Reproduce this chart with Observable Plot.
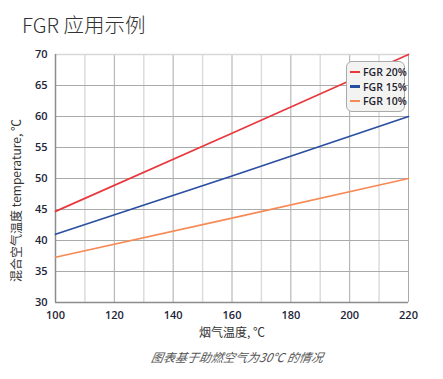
<!DOCTYPE html>
<html><head><meta charset="utf-8">
<script src="https://cdn.jsdelivr.net/npm/d3@7"></script>
<script src="https://cdn.jsdelivr.net/npm/@observablehq/plot@0.6"></script>
<style>
body{margin:0;background:#fff;font-family:"Open Sans","Noto Sans CJK SC",sans-serif;}
#wrap{position:relative;width:443px;height:379px;overflow:hidden;}
#title{position:absolute;left:22px;top:9px;font-family:"Noto Sans CJK SC","Noto Sans",sans-serif;font-size:20.5px;font-weight:300;color:#333;white-space:nowrap;}
#caption{position:absolute;left:0;width:475px;top:348px;text-align:center;font-family:"Noto Sans CJK SC",sans-serif;font-style:italic;font-size:12px;color:#555;transform:skewX(-10deg);white-space:nowrap;}
#legend{position:absolute;left:346px;top:61px;width:57px;height:49px;border:1px solid #aaa;border-radius:6px;background:#f3f4f1;font-size:10.5px;font-weight:600;color:#1e2230;font-family:"Open Sans",sans-serif;}
#legend .row{position:absolute;left:3px;display:flex;align-items:center;white-space:nowrap;line-height:12px;}
#legend .sw{width:10px;height:2.5px;margin-right:3px;flex:none;}
#chart{position:absolute;left:0;top:0;}
</style></head>
<body><div id="wrap"><div id="chart"></div><div id="title">FGR 应用示例</div><div id="legend"></div><div id="caption">图表基于助燃空气为30℃ 的情况</div></div>
<script>
const flueTemp = [100, 160, 220];
const fgr20 = [44.7, 57.3, 70.0];
const fgr15 = [41.0, 50.4, 60.0];
const fgr10 = [37.3, 43.6, 50.0];
const seriesNames = ["FGR 20%", "FGR 15%", "FGR 10%"];
const seriesColors = ["#e8383d", "#2a4ea0", "#f78a55"];
const xTicks = [100, 120, 140, 160, 180, 200, 220];
const yTicks = [30, 35, 40, 45, 50, 55, 60, 65, 70];
const minorX = [110, 130, 150, 170, 190, 210];

const rows = [];
[fgr20, fgr15, fgr10].forEach((vals, i) => vals.forEach((v, j) => rows.push({x: flueTemp[j], y: v, s: seriesNames[i]})));

const plot = Plot.plot({
  width: 443, height: 379,
  marginLeft: 55, marginRight: 35, marginTop: 54, marginBottom: 77,
  style: {fontFamily: '"Open Sans","Noto Sans CJK SC",sans-serif', fontSize: "11px", color: "#1c2438", background: "transparent"},
  x: {domain: [100, 220], ticks: xTicks, tickSize: 0, tickPadding: 9, label: null},
  y: {domain: [30, 70], ticks: yTicks, tickSize: 0, tickPadding: 8, label: null},
  color: {domain: seriesNames, range: seriesColors},
  marks: [
    Plot.ruleX(minorX, {stroke: "#dcdcdc", strokeWidth: 1.5}),
    Plot.ruleX(xTicks.slice(1), {stroke: "#a9abab", strokeWidth: 1}),
    Plot.ruleY(yTicks.slice(1), {stroke: "#a9abab", strokeWidth: 1}),
    Plot.ruleY([70], {stroke: "#d8d8d8", strokeWidth: 1.5}),
    Plot.axisX({ticks: xTicks, tickSize: 0, tickPadding: 9, label: null, fontWeight: "600"}),
    Plot.axisY({ticks: yTicks, tickSize: 0, tickPadding: 8, label: null, fontWeight: "600"}),
    Plot.ruleX([100], {stroke: "#8a8d8d", strokeWidth: 1.5}),
    Plot.ruleY([30], {stroke: "#8a8d8d", strokeWidth: 1.5}),
    Plot.line(rows, {x: "x", y: "y", stroke: "s", strokeWidth: 1.7, z: "s"}),
    Plot.text(["烟气温度, ℃"], {frameAnchor: "bottom", lineAnchor: "middle", dy: 31, fontSize: 12, fill: "#333", fontFamily: '"Noto Sans CJK SC",sans-serif'}),
    Plot.text(["混合空气温度 temperature, ℃"], {frameAnchor: "left", textAnchor: "middle", lineAnchor: "middle", dx: -38, dy: 22, rotate: -90, fontSize: 12, fill: "#333", fontFamily: '"Noto Sans CJK SC",sans-serif'})
  ]
});
document.getElementById("chart").appendChild(plot);

const leg = document.getElementById("legend");
seriesNames.forEach((n, i) => {
  const r = document.createElement("div");
  r.className = "row";
  r.style.top = (4 + i * 14.5) + "px";
  r.innerHTML = `<span class="sw" style="background:${seriesColors[i]}"></span><span>${n}</span>`;
  leg.appendChild(r);
});
</script></body></html>
